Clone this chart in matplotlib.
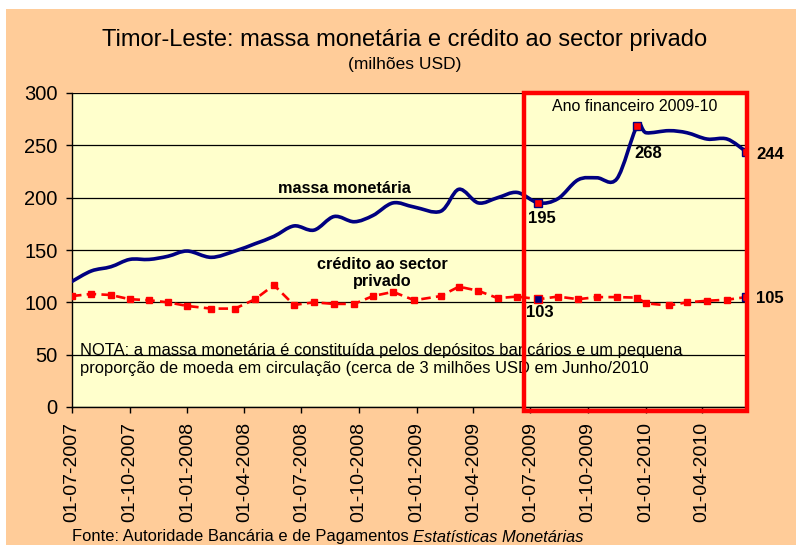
import numpy as np
import pandas as pd
import matplotlib
matplotlib.use("Agg")
import matplotlib.pyplot as plt
import matplotlib.dates as mdates
from matplotlib.path import Path
from matplotlib.patches import PathPatch, Rectangle
from matplotlib import font_manager

# ---------------- data ----------------
dates = ["2007-07-01", "2007-08-01", "2007-09-01", "2007-10-01", "2007-11-01",
         "2007-12-01", "2008-01-01", "2008-02-08", "2008-03-17", "2008-04-18",
         "2008-05-18", "2008-06-19", "2008-07-21", "2008-08-22", "2008-09-23",
         "2008-10-23", "2008-11-24", "2008-12-28", "2009-02-08", "2009-03-09",
         "2009-04-09", "2009-05-10", "2009-06-10", "2009-07-14", "2009-08-14",
         "2009-09-15", "2009-10-15", "2009-11-16", "2009-12-18", "2010-01-02",
         "2010-02-07", "2010-03-08", "2010-04-09", "2010-05-11", "2010-06-10"]
massa_monetaria = [120, 130, 134, 141, 141, 144, 149, 143, 149, 156,
                   163, 173, 169, 182, 177, 183, 195, 191, 187, 208,
                   195, 200, 205, 195, 199, 217, 219, 218, 268, 262,
                   264, 262, 256, 256, 244]
credito_privado = [106, 108, 107, 103, 102, 100, 96.5, 94, 94, 103,
                   116.5, 97.5, 100, 98.5, 98.5, 106, 110, 102, 106, 115,
                   111, 104, 105.5, 103, 105.5, 103, 105, 105, 104.5, 99,
                   97, 100, 101.5, 102.5, 105]
# highlighted points (index into the series) and their labels
mm_highlight = [23, 28, 34]
mm_labels = ["195", "268", "244"]
cr_highlight = [23, 34]
cr_labels = ["103", "105"]
box_start = "2009-06-21"
yticks = [0, 50, 100, 150, 200, 250, 300]

title = "Timor-Leste: massa monetária e crédito ao sector privado"
subtitle = "(milhões USD)"
nota = ("NOTA: a massa monetária é constituída pelos depósitos bancários e um pequena\n"
        "proporção de moeda em circulação (cerca de 3 milhões USD em Junho/2010")
fonte_regular = "Fonte: Autoridade Bancária e de Pagamentos "
fonte_italic = "Estatísticas Monetárias"

# ---------------- style ----------------
avail = {f.name for f in font_manager.fontManager.ttflist}
narrow = ["Liberation Sans Narrow", "Liberation Sans"] if "Liberation Sans Narrow" in avail else ["Liberation Sans"]
plt.rcParams["font.family"] = ["Liberation Sans", "DejaVu Sans"]

ORANGE = "#FFCC99"
YELLOW = "#FFFFCC"
NAVY = "#000080"
RED = "#FF0000"

W, H = 796, 545
fig = plt.figure(figsize=(W / 100, H / 100), dpi=100)
fig.patch.set_facecolor("white")
fig.add_artist(Rectangle((6 / W, 0), 1, 1 - 9 / H, transform=fig.transFigure,
                         facecolor=ORANGE, edgecolor="none", zorder=-10))

L, R, T, B = 72, 746, 93, 407
ax = fig.add_axes([L / W, 1 - B / H, (R - L) / W, (B - T) / H])
ax.set_facecolor(YELLOW)

x = mdates.date2num(pd.to_datetime(dates))
ym = np.array(massa_monetaria, dtype=float)
yc = np.array(credito_privado, dtype=float)

# smoothed money-supply line (Catmull-Rom as cubic Bezier, like Excel smoothing)
n = len(x)
P = np.column_stack([x, ym])
verts = [tuple(P[0])]
codes = [Path.MOVETO]
for i in range(n - 1):
    p0 = P[i - 1] if i > 0 else P[i]
    p1 = P[i]
    p2 = P[i + 1]
    p3 = P[i + 2] if i + 2 < n else P[i + 1]
    c1 = p1 + (p2 - p0) / 6.0
    c2 = p2 - (p3 - p1) / 6.0
    verts += [tuple(c1), tuple(c2), tuple(p2)]
    codes += [Path.CURVE4] * 3
ax.add_patch(PathPatch(Path(verts, codes), facecolor="none", edgecolor=NAVY,
                       lw=2.6, capstyle="round", joinstyle="round", zorder=4))

# credit line
ax.plot(x, yc, color=RED, lw=1.9, linestyle=(0, (3.6, 2.0)), marker="s",
        markersize=3.8, markerfacecolor=RED, markeredgecolor=RED, zorder=4)

# highlighted markers
ax.plot(x[mm_highlight], ym[mm_highlight], linestyle="none", marker="s",
        markersize=6, markerfacecolor=RED, markeredgecolor=NAVY, markeredgewidth=1, zorder=6)
ax.plot(x[cr_highlight[0]], yc[cr_highlight[0]], linestyle="none", marker="s",
        markersize=6, markerfacecolor=NAVY, markeredgecolor=RED, markeredgewidth=1, zorder=6)
ax.plot(x[cr_highlight[1]], yc[cr_highlight[1]], linestyle="none", marker="s",
        markersize=6, markerfacecolor=RED, markeredgecolor=NAVY, markeredgewidth=1, zorder=6)

# value labels
mm_offsets = [(2.5, -11), (8.5, -19.5), (17.5, -2)]
for idx, lab, off in zip(mm_highlight, mm_labels, mm_offsets):
    ax.annotate(lab, (x[idx], ym[idx]), xytext=off, textcoords="offset points",
                ha="center", va="center", fontsize=12, fontweight="bold", zorder=7,
                annotation_clip=False)
cr_offsets = [(1, -9.8), (17.5, -1)]
for idx, lab, off in zip(cr_highlight, cr_labels, cr_offsets):
    ax.annotate(lab, (x[idx], yc[idx]), xytext=off, textcoords="offset points",
                ha="center", va="center", fontsize=12, fontweight="bold", zorder=7,
                annotation_clip=False)

# axes
ax.set_xlim(x[0], x[-1])
ax.set_ylim(0, 300)
ax.set_yticks(yticks)
ax.yaxis.grid(True, color="black", lw=0.9)
ax.set_axisbelow(True)
ax.xaxis.set_major_locator(mdates.MonthLocator(bymonth=[1, 4, 7, 10]))
ax.xaxis.set_major_formatter(mdates.DateFormatter("%d-%m-%Y"))
for s in ["top", "right"]:
    ax.spines[s].set_visible(False)
for s in ["left", "bottom"]:
    ax.spines[s].set_color("black")
    ax.spines[s].set_linewidth(1.0)
ax.tick_params(axis="y", direction="out", length=4.5, width=1, pad=6, labelsize=14.5)
ax.tick_params(axis="x", direction="out", length=4, width=1, pad=7, labelsize=14, rotation=90)

# red box for the fiscal year
xb0 = mdates.date2num(pd.Timestamp(box_start))
xb1 = x[-1] + 2
ax.add_patch(Rectangle((xb0, -3.8), xb1 - xb0, 303.8, facecolor="none",
                       edgecolor=RED, lw=3.2, zorder=9, clip_on=False))

# texts inside plot
ax.text(0.835, 0.958, "Ano financeiro 2009-10", transform=ax.transAxes,
        ha="center", va="center", fontsize=11.5, zorder=7)
ax.text(0.4036, 0.697, "massa monetária", transform=ax.transAxes,
        ha="center", va="center", fontsize=11.7, fontweight="bold", zorder=7)
ax.text(0.4607, 0.4277, "crédito ao sector\nprivado", transform=ax.transAxes,
        ha="center", va="center", fontsize=11.7, fontweight="bold", zorder=7,
        linespacing=1.15)
ax.text(0.0119, 0.151, nota, transform=ax.transAxes, ha="left", va="center",
        fontsize=11.9, zorder=8, linespacing=1.25)

# titles
fig.text(405 / W, 1 - 40 / H, title, ha="center", va="center", fontsize=17, family=narrow)
fig.text(405 / W, 1 - 65 / H, subtitle, ha="center", va="center", fontsize=12.5, family=narrow)

# source line with italic part
t1 = fig.text(72 / W, 1 - 537 / H, fonte_regular, ha="left", va="center",
              fontsize=11.9, family=narrow)
fig.canvas.draw()
bb = t1.get_window_extent(renderer=fig.canvas.get_renderer())
fig.text(bb.x1 / W, 1 - 537 / H, fonte_italic, ha="left", va="center",
         fontsize=11.9, family=narrow, style="italic")

fig.savefig("out.png", dpi=100, facecolor=fig.get_facecolor())
